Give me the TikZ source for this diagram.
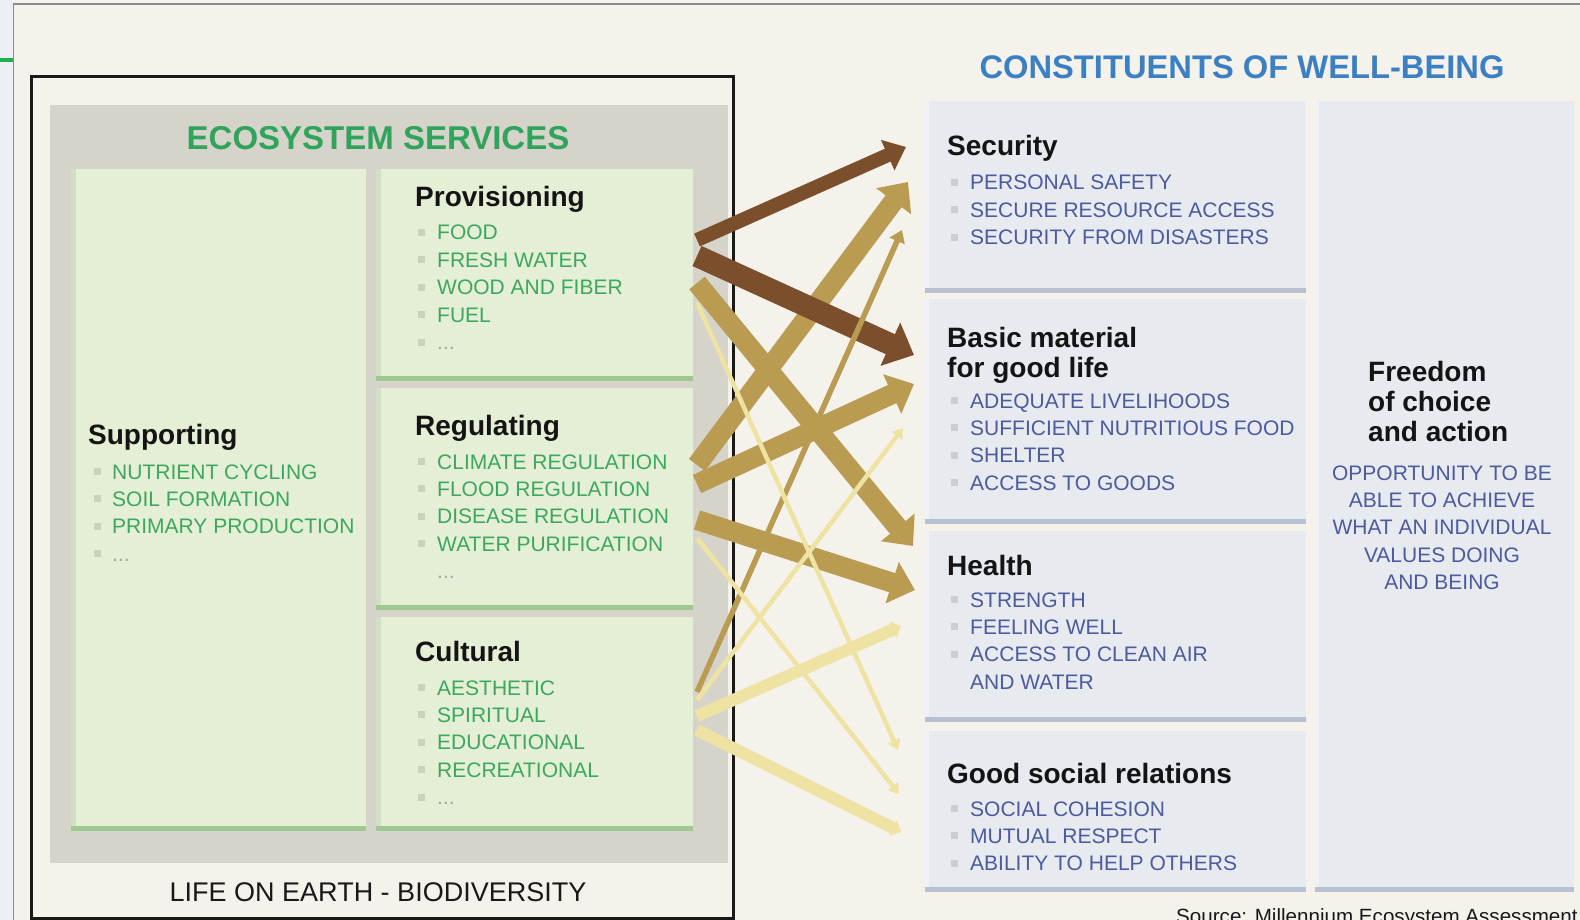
\documentclass[tikz,border=0pt]{standalone}
\usepackage{fontspec}
\setmainfont{Liberation Sans}
\usetikzlibrary{arrows.meta}

\definecolor{bgcream}{HTML}{F4F2EB}
\definecolor{leftstrip}{HTML}{EDEFF5}
\definecolor{framegrey}{HTML}{8C8C8C}
\definecolor{esgrey}{HTML}{D6D4CA}
\definecolor{boxgreen}{HTML}{E4EFD6}
\definecolor{sidegreen}{HTML}{D2DFC4}
\definecolor{edgegreen}{HTML}{9FC990}
\definecolor{titlegreen}{HTML}{2FA45A}
\definecolor{markgreen}{HTML}{1DB04F}
\definecolor{itemgreen}{HTML}{3CA85E}
\definecolor{bulletgreen}{HTML}{C9D3BB}
\definecolor{boxblue}{HTML}{E7EAEF}
\definecolor{sideblue}{HTML}{F1F2F5}
\definecolor{edgeblue}{HTML}{B7C0D0}
\definecolor{titleblue}{HTML}{3B80C3}
\definecolor{itemblue}{HTML}{4C5A9E}
\definecolor{bulletgrey}{HTML}{CBCDD1}
\definecolor{arrdark}{HTML}{7B4F2C}
\definecolor{arrmid}{HTML}{B99C52}
\definecolor{arrlight}{HTML}{EEE3A2}

\newcommand\fsz[1]{\fontsize{#1}{#1}\selectfont}

\begin{document}
\begin{tikzpicture}[x=1pt,y=-1pt,
  panel/.style={rectangle, inner sep=0, outer sep=0, anchor=north west},
  greenpanel/.style={panel, fill=boxgreen},
  bluepanel/.style={panel, fill=boxblue},
  head/.style={anchor=base west, inner sep=0, font=\fsz{28}\bfseries, text=black!92},
  gitem/.style={anchor=base west, inner sep=0, font=\fsz{21}, text=itemgreen},
  bitem/.style={anchor=base west, inner sep=0, font=\fsz{21}, text=itemblue},
  citem/.style={anchor=base, inner sep=0, font=\fsz{21}, text=itemblue},
  gbul/.style={rectangle, inner sep=0, minimum size=7pt, fill=bulletgreen},
  bbul/.style={rectangle, inner sep=0, minimum size=7pt, fill=bulletgrey},
  more/.style={anchor=base west, inner sep=0, font=\fsz{21}, text=black!35},
  darkthin/.style={draw=arrdark, line width=14pt, -{Triangle[length=20pt,width=32pt]}},
  darkfat/.style={draw=arrdark, line width=22pt, -{Triangle[length=26pt,width=46pt]}},
  midfat/.style={draw=arrmid, line width=20pt, -{Triangle[length=24pt,width=42pt]}},
  midthin/.style={draw=arrmid, line width=5.5pt, -{Triangle[length=12pt,width=16pt]}},
  lightthin/.style={draw=arrlight, line width=4.5pt, -{Triangle[length=10pt,width=13pt]}},
  lightmid/.style={draw=arrlight, line width=12pt, -{Triangle[length=9pt,width=17pt]}},
]
\useasboundingbox (0,0) rectangle (1580,920);
\clip (0,0) rectangle (1580,920);

% page background and outer margin
\fill[bgcream] (0,0) rectangle (1580,920);
\fill[leftstrip] (0,0) rectangle (13,920);
\draw[framegrey, line width=1.5pt] (13.5,920) -- (13.5,4) -- (1580,4);
\draw[markgreen, line width=4.5pt] (0,60) -- (13,60);

% ---------- ecosystem services block ----------
\draw[black!90, line width=3pt] (31,77) rectangle (733,918);
\fill[esgrey] (50,105) rectangle (728,863);

\node[anchor=base, inner sep=0, font=\fsz{33}\bfseries, text=titlegreen] (estitle) at (378,150) {ECOSYSTEM SERVICES};

\foreach \nm/\xa/\ya/\xb/\yb in {supp/71/169/366/831, prov/376/169/693/381, regu/376/388/693/610, cult/376/617/693/831}{
  \node[greenpanel, minimum width={\xb-\xa}, minimum height={\yb-\ya}] (\nm) at (\xa,\ya) {};
  \fill[sidegreen] (\nm.north west) rectangle ([xshift=5pt]\nm.south west);
  \fill[edgegreen] (\nm.south west) rectangle ([yshift=5pt]\nm.south east);
}

% Supporting
\node[head] (supph) at (88,444) {Supporting};
\foreach \t [count=\i from 0] in {NUTRIENT CYCLING, SOIL FORMATION, PRIMARY PRODUCTION}{
  \node[gbul] (suppb\i) at (97,{479+27.4*\i-7.5}) {};
  \node[gitem] (suppi\i) at (112,{479+27.4*\i}) {\t};
}
\node[gbul] (suppb3) at (97,{561.2-7.5}) {};
\node[more] (suppm) at (112,561.2) {...};

% Provisioning
\node[head] (provh) at (415,207) {Provisioning};
\foreach \t [count=\i from 0] in {FOOD, FRESH WATER, WOOD AND FIBER, FUEL}{
  \node[gbul] (provb\i) at (421,{240+27.4*\i-7.5}) {};
  \node[gitem] (provi\i) at (437,{240+27.4*\i}) {\t};
}
\node[gbul] (provb4) at (421,{349.6-7.5}) {};
\node[more] (provm) at (437,349.6) {...};

% Regulating
\node[head] (reguh) at (415,435) {Regulating};
\foreach \t [count=\i from 0] in {CLIMATE REGULATION, FLOOD REGULATION, DISEASE REGULATION, WATER PURIFICATION}{
  \node[gbul] (regub\i) at (421,{469+27.4*\i-7.5}) {};
  \node[gitem] (regui\i) at (437,{469+27.4*\i}) {\t};
}
\node[more] (regum) at (437,578.6) {...};

% Cultural
\node[head] (culth) at (415,661) {Cultural};
\foreach \t [count=\i from 0] in {AESTHETIC, SPIRITUAL, EDUCATIONAL, RECREATIONAL}{
  \node[gbul] (cultb\i) at (421,{695+27.4*\i-7.5}) {};
  \node[gitem] (culti\i) at (437,{695+27.4*\i}) {\t};
}
\node[gbul] (cultb4) at (421,{804.6-7.5}) {};
\node[more] (cultm) at (437,804.6) {...};

\node[anchor=base, inner sep=0, font=\fsz{27}, text=black!90] (life) at (378,901) {LIFE ON EARTH - BIODIVERSITY};

% ---------- constituents of well-being ----------
\node[anchor=base, inner sep=0, font=\fsz{32.7}\bfseries, text=titleblue] (wbtitle) at (1242,79) {CONSTITUENTS OF WELL-BEING};

\foreach \nm/\xa/\ya/\xb/\yb in {secu/925/101/1306/293, basic/925/299/1306/524, health/925/531/1306/722, social/925/731/1306/892, free/1315/101/1574/892}{
  \node[bluepanel, minimum width={\xb-\xa}, minimum height={\yb-\ya}] (\nm) at (\xa,\ya) {};
  \fill[sideblue] (\nm.north west) rectangle ([xshift=4pt]\nm.south west);
  \fill[edgeblue] (\nm.south west) rectangle ([yshift=5pt]\nm.south east);
}

% Security
\node[head] (secuh) at (947,156) {Security};
\foreach \t [count=\i from 0] in {PERSONAL SAFETY, SECURE RESOURCE ACCESS, SECURITY FROM DISASTERS}{
  \node[bbul] (secub\i) at (954,{190+27.4*\i-7.5}) {};
  \node[bitem] (secui\i) at (970,{190+27.4*\i}) {\t};
}

% Basic material
\node[head] (basich) at (947,347) {Basic material};
\node[head] (basich2) at (947,377) {for good life};
\foreach \t [count=\i from 0] in {ADEQUATE LIVELIHOODS, SUFFICIENT NUTRITIOUS FOOD, SHELTER, ACCESS TO GOODS}{
  \node[bbul] (basicb\i) at (954,{408+27.4*\i-7.5}) {};
  \node[bitem] (basici\i) at (970,{408+27.4*\i}) {\t};
}

% Health
\node[head] (healthh) at (947,575) {Health};
\foreach \t [count=\i from 0] in {STRENGTH, FEELING WELL, ACCESS TO CLEAN AIR}{
  \node[bbul] (healthb\i) at (954,{607+27.4*\i-7.5}) {};
  \node[bitem] (healthi\i) at (970,{607+27.4*\i}) {\t};
}
\node[bitem] (healthi3) at (970,689.2) {AND WATER};

% Good social relations
\node[head] (socialh) at (947,783) {Good social relations};
\foreach \t [count=\i from 0] in {SOCIAL COHESION, MUTUAL RESPECT, ABILITY TO HELP OTHERS}{
  \node[bbul] (socialb\i) at (954,{816+27.4*\i-7.5}) {};
  \node[bitem] (sociali\i) at (970,{816+27.4*\i}) {\t};
}

% Freedom of choice and action
\node[head] (freeh1) at (1368,381) {Freedom};
\node[head] (freeh2) at (1368,411) {of choice};
\node[head] (freeh3) at (1368,441) {and action};
\foreach \t [count=\i from 0] in {OPPORTUNITY TO BE, ABLE TO ACHIEVE, WHAT AN INDIVIDUAL, VALUES DOING, AND BEING}{
  \node[citem] (freei\i) at (1442,{480+27.4*\i}) {\t};
}

\node[anchor=base west, inner sep=0, font=\fsz{20.6}, text=black!90] (source) at (1176,923) {Source: Millennium Ecosystem Assessment};

% ---------- links from services to well-being ----------
\coordinate (ps1) at (697,240);  \coordinate (pe1) at (906,147);
\coordinate (ps2) at (697,256);  \coordinate (pe2) at (914,355);
\coordinate (ps3) at (697,283);  \coordinate (pe3) at (913,546);
\coordinate (ps4) at (697,303);  \coordinate (pe4) at (898,750);
\coordinate (rs1) at (697,465);  \coordinate (re1) at (908,182);
\coordinate (rs2) at (697,484);  \coordinate (re2) at (914,384);
\coordinate (rs3) at (697,520);  \coordinate (re3) at (915,590);
\coordinate (rs4) at (697,538);  \coordinate (re4) at (899,794);
\coordinate (cs1) at (697,692);  \coordinate (ce1) at (902,230);
\coordinate (cs2) at (697,700);  \coordinate (ce2) at (903,428);
\coordinate (cs3) at (697,716);  \coordinate (ce3) at (901,626);
\coordinate (cs4) at (697,730);  \coordinate (ce4) at (901,832);

\draw[midfat] (rs1) -- (re1);
\draw[midfat] (ps3) -- (pe3);
\draw[midfat] (rs2) -- (re2);
\draw[midfat] (rs3) -- (re3);
\draw[darkthin] (ps1) -- (pe1);
\draw[darkfat] (ps2) -- (pe2);
\draw[lightmid] (cs3) -- (ce3);
\draw[lightmid] (cs4) -- (ce4);
\draw[midthin] (cs1) -- (ce1);
\draw[lightthin] (ps4) -- (pe4);
\draw[lightthin] (rs4) -- (re4);
\draw[lightthin] (cs2) -- (ce2);
\end{tikzpicture}
\end{document}
